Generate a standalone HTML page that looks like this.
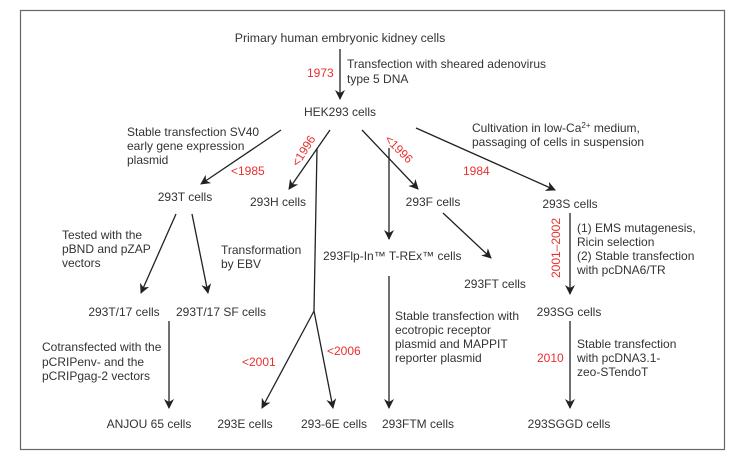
<!DOCTYPE html>
<html><head><meta charset="utf-8"><style>
html,body{margin:0;padding:0;background:#fff}
svg{display:block}
text{font-family:"Liberation Sans",sans-serif;font-size:12px;fill:#333}
.r{fill:#e8302e}
line,polyline{stroke:#222;stroke-width:1.3;fill:none}
</style></head><body>
<svg width="745" height="458" viewBox="0 0 745 458" xmlns="http://www.w3.org/2000/svg">
<defs><marker id="a" viewBox="0 0 10 10" refX="9" refY="5" markerWidth="10" markerHeight="10" markerUnits="userSpaceOnUse" orient="auto"><path d="M0,0 L10,5 L0,10 L3,5 z" fill="#222"/></marker></defs>
<rect x="20.5" y="10.5" width="704" height="439" fill="#fff" stroke="#666" stroke-width="1.2"/>

<text x="340" y="42" text-anchor="middle" style="font-size:12.3px">Primary human embryonic kidney cells</text>
<line x1="340" y1="49" x2="340" y2="99" marker-end="url(#a)"/>
<text class="r" x="307" y="77">1973</text>
<text x="347" y="68">Transfection with sheared adenovirus</text>
<text x="347" y="83">type 5 DNA</text>
<text x="340" y="116" text-anchor="middle">HEK293 cells</text>

<text x="127" y="136">Stable transfection SV40</text>
<text x="127" y="150">early gene expression</text>
<text x="127" y="164">plasmid</text>
<line x1="281" y1="130" x2="201" y2="184" marker-end="url(#a)"/>
<text class="r" x="231" y="175">&lt;1985</text>
<text x="185" y="201" text-anchor="middle">293T cells</text>

<line x1="330" y1="130" x2="289" y2="189" marker-end="url(#a)"/>
<text class="r" transform="translate(307,153) rotate(-58)" text-anchor="middle">&lt;1996</text>
<text x="278" y="206" text-anchor="middle">293H cells</text>
<polyline points="317,148 314,311"/>
<line x1="314" y1="311" x2="262" y2="408" marker-end="url(#a)"/>
<line x1="314" y1="311" x2="333" y2="408" marker-end="url(#a)"/>
<text class="r" x="242" y="366">&lt;2001</text>
<text class="r" x="327" y="355">&lt;2006</text>

<line x1="362" y1="130" x2="418" y2="189" marker-end="url(#a)"/>
<text class="r" transform="translate(396,152) rotate(45)" text-anchor="middle">&lt;1996</text>
<text x="433" y="206" text-anchor="middle">293F cells</text>
<line x1="389" y1="148" x2="389" y2="239" marker-end="url(#a)"/>
<text x="323" y="260">293Flp-In™ T-REx™ cells</text>
<line x1="443" y1="213" x2="491" y2="258" marker-end="url(#a)"/>
<text x="495" y="288" text-anchor="middle">293FT cells</text>
<line x1="389" y1="276" x2="389" y2="408" marker-end="url(#a)"/>
<text x="395" y="320">Stable transfection with</text>
<text x="395" y="334">ecotropic receptor</text>
<text x="395" y="348">plasmid and MAPPIT</text>
<text x="395" y="362">reporter plasmid</text>
<text x="418" y="428" text-anchor="middle">293FTM cells</text>

<line x1="416" y1="128" x2="555" y2="190" marker-end="url(#a)"/>
<text x="472" y="132">Cultivation in low-Ca<tspan font-size="8" dy="-4">2+</tspan><tspan dy="4"> medium,</tspan></text>
<text x="472" y="146">passaging of cells in suspension</text>
<text class="r" x="463" y="175">1984</text>
<text x="570" y="208" text-anchor="middle">293S cells</text>
<line x1="570" y1="213" x2="570" y2="294" marker-end="url(#a)"/>
<text class="r" transform="translate(560,248) rotate(-90)" text-anchor="middle">2001–2002</text>
<text x="577" y="232">(1) EMS mutagenesis,</text>
<text x="577" y="246">Ricin selection</text>
<text x="577" y="260">(2) Stable transfection</text>
<text x="577" y="274">with pcDNA6/TR</text>
<text x="569" y="316" text-anchor="middle">293SG cells</text>
<line x1="570" y1="321" x2="570" y2="408" marker-end="url(#a)"/>
<text class="r" x="537" y="362">2010</text>
<text x="577" y="348">Stable transfection</text>
<text x="577" y="362">with pcDNA3.1-</text>
<text x="577" y="376">zeo-STendoT</text>
<text x="569" y="428" text-anchor="middle">293SGGD cells</text>

<line x1="176" y1="214" x2="141" y2="293" marker-end="url(#a)"/>
<line x1="192" y1="214" x2="208" y2="293" marker-end="url(#a)"/>
<text x="62" y="239">Tested with the</text>
<text x="62" y="253">pBND and pZAP</text>
<text x="62" y="267">vectors</text>
<text x="221" y="254">Transformation</text>
<text x="221" y="268">by EBV</text>
<text x="124" y="316" text-anchor="middle">293T/17 cells</text>
<text x="221" y="316" text-anchor="middle">293T/17 SF cells</text>
<line x1="169" y1="321" x2="169" y2="408" marker-end="url(#a)"/>
<text x="42" y="351">Cotransfected with the</text>
<text x="42" y="366">pCRIPenv- and the</text>
<text x="42" y="380">pCRIPgag-2 vectors</text>
<text x="149" y="428" text-anchor="middle">ANJOU 65 cells</text>
<text x="245" y="428" text-anchor="middle">293E cells</text>
<text x="334" y="428" text-anchor="middle">293-6E cells</text>
</svg>
</body></html>
